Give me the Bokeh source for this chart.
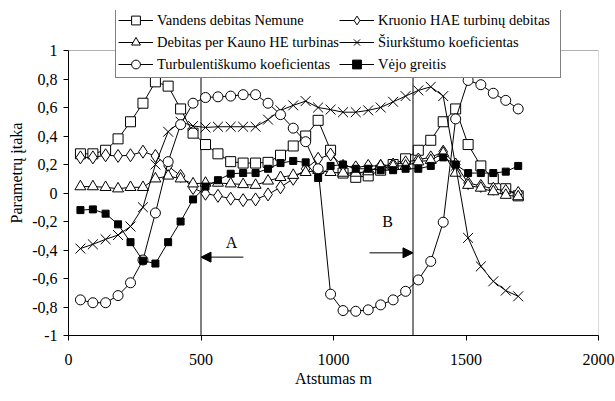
from bokeh.plotting import figure
from bokeh.models import (Range1d, FixedTicker, Legend, LegendItem, Arrow,
                          NormalHead, Label, BoxAnnotation)
from bokeh.embed import file_html
from bokeh.resources import INLINE

FONT = "Liberation Serif"

distance = [45, 92, 140, 187, 234, 281, 328, 376, 423, 470, 517, 564, 612, 659,
            706, 753, 800, 848, 895, 942, 989, 1036, 1084, 1131, 1178, 1225, 1272,
            1320, 1367, 1414, 1461, 1508, 1556, 1603, 1650, 1697]

vandens = [0.275, 0.275, 0.30, 0.38, 0.50, 0.63, 0.78, 0.75, 0.59, 0.42,
           0.34, 0.275, 0.22, 0.21, 0.21, 0.215, 0.265, 0.33, 0.40, 0.51,
           0.30, 0.14, 0.11, 0.12, 0.16, 0.20, 0.24, 0.30, 0.37, 0.50,
           0.59, 0.34, 0.19, 0.10, 0.03, -0.02]
debitas = [0.045, 0.045, 0.04, 0.03, 0.04, 0.04, 0.10, 0.12, 0.10, 0.065,
           0.07, 0.07, 0.065, 0.06, 0.055, 0.085, 0.11, 0.125, 0.145, 0.16,
           0.145, 0.14, 0.14, 0.15, 0.19, 0.19, 0.19, 0.22, 0.23, 0.28,
           0.14, 0.055, 0.035, 0.01, -0.015, -0.025]
turbulent = [-0.75, -0.77, -0.77, -0.72, -0.63, -0.47, -0.14, 0.22, 0.48, 0.63,
             0.67, 0.675, 0.68, 0.69, 0.69, 0.63, 0.55, 0.455, 0.36, 0.17,
             -0.71, -0.825, -0.83, -0.82, -0.785, -0.75, -0.69, -0.61, -0.48, -0.205,
             0.52, 0.79, 0.76, 0.70, 0.65, 0.59]
kruonio = [0.25, 0.25, 0.265, 0.26, 0.265, 0.29, 0.26, 0.19, 0.12, 0.035,
           -0.005, -0.02, -0.04, -0.05, -0.045, -0.01, 0.04, 0.10, 0.17, 0.24,
           0.27, 0.19, 0.18, 0.19, 0.19, 0.20, 0.215, 0.235, 0.25, 0.29,
           0.20, 0.07, 0.05, 0.03, 0.015, 0.0]
siurkstumo = [-0.39, -0.36, -0.325, -0.295, -0.235, -0.10, 0.20, 0.43, 0.50, 0.47,
              0.46, 0.465, 0.465, 0.465, 0.465, 0.515, 0.58, 0.615, 0.645, 0.60,
              0.585, 0.567, 0.567, 0.58, 0.60, 0.64, 0.68, 0.72, 0.745, 0.68,
              0.19, -0.315, -0.515, -0.62, -0.685, -0.725]
vejo = [-0.12, -0.115, -0.145, -0.22, -0.345, -0.475, -0.495, -0.345, -0.20, -0.045,
        0.045, 0.09, 0.135, 0.14, 0.14, 0.17, 0.21, 0.225, 0.215, 0.105,
        0.19, 0.20, 0.17, 0.17, 0.16, 0.16, 0.17, 0.17, 0.19, 0.25,
        0.20, 0.14, 0.14, 0.14, 0.15, 0.19]

labels = ["Vandens debitas Nemune", "Debitas per Kauno HE turbinas",
          "Turbulentiškumo koeficientas", "Kruonio HAE turbinų debitas",
          "Šiurkštumo koeficientas", "Vėjo greitis"]

y_ticks = [-1, -0.8, -0.6, -0.4, -0.2, 0, 0.2, 0.4, 0.6, 0.8, 1]
y_tick_labels = ["-1", "-0,8", "-0,6", "-0,4", "-0,2", "0", "0,2", "0,4", "0,6", "0,8", "1"]
x_ticks = [0, 500, 1000, 1500, 2000]

zones = [500, 1300]

# the y range is extended above 1 so the legend (which overlaps the top
# border in the reference) is not clipped; the visible box is drawn to y=1
Y_TOP = 1 + 40 / 142.5

p = figure(width=615, height=401, output_backend="svg", toolbar_location=None,
           x_range=Range1d(0, 2000), y_range=Range1d(-1, Y_TOP),
           min_border_left=68, min_border_right=17, min_border_top=10,
           min_border_bottom=66)
p.grid.visible = False
p.outline_line_color = None
p.background_fill_color = "white"
p.border_fill_color = "white"

p.add_layout(BoxAnnotation(left=0, right=2000, bottom=-1, top=1,
                           fill_alpha=0, line_color="black", line_width=1,
                           level="underlay"))

for ax in (p.xaxis[0], p.yaxis[0]):
    ax.axis_line_color = "black"
    ax.major_tick_line_color = "black"
    ax.minor_tick_line_color = None
    ax.major_tick_in = 0
    ax.major_tick_out = 5
    ax.major_label_text_font = FONT
    ax.major_label_text_font_size = "16px"
    ax.major_label_text_color = "black"
    ax.axis_label_text_font = FONT
    ax.axis_label_text_font_size = "16px"
    ax.axis_label_text_font_style = "normal"
    ax.axis_label_text_color = "black"

p.xaxis.ticker = FixedTicker(ticks=x_ticks)
p.xaxis.major_label_standoff = 13
p.xaxis.axis_label = "Atstumas m"
p.xaxis.axis_label_standoff = 2
p.yaxis.ticker = FixedTicker(ticks=y_ticks)
p.yaxis.bounds = (-1, 1)
p.yaxis.major_label_overrides = {t: s for t, s in zip(y_ticks, y_tick_labels)}
p.yaxis.major_label_standoff = 6
p.yaxis.axis_label = "Parametrų įtaka"
p.yaxis.axis_label_standoff = 4

p.segment(x0=zones, y0=[-1] * len(zones), x1=zones, y1=[1] * len(zones),
          line_color="black", line_width=1)

p.add_layout(Arrow(end=NormalHead(size=10, fill_color="black", line_color="black"),
                   x_start=660, y_start=-0.45, x_end=500, y_end=-0.45,
                   line_color="black", line_width=1))
p.add_layout(Arrow(end=NormalHead(size=10, fill_color="black", line_color="black"),
                   x_start=1136, y_start=-0.42, x_end=1300, y_end=-0.42,
                   line_color="black", line_width=1))
p.add_layout(Label(x=615, y=-0.35, text="A", text_font=FONT, text_font_size="16px",
                   text_align="center", text_baseline="middle", text_color="black"))
p.add_layout(Label(x=1204, y=-0.20, text="B", text_font=FONT, text_font_size="16px",
                   text_align="center", text_baseline="middle", text_color="black"))

series = [
    (vandens, "square", 10, "white"),
    (debitas, "triangle", 11, "white"),
    (turbulent, "circle", 10, "white"),
    (kruonio, "diamond", 13, "white"),
    (siurkstumo, "x", 14, "white"),
    (vejo, "square", 7, "black"),
]

renderers = {}
draw_order = [0, 3, 1, 4, 2, 5]
for i in draw_order:
    ys, marker, size, fill = series[i]
    lr = p.line(distance, ys, line_color="black", line_width=1)
    sr = p.scatter(distance, ys, marker=marker, size=size, fill_color=fill,
                   line_color="black", line_width=1)
    renderers[i] = [lr, sr]

items = [LegendItem(label=labels[i], renderers=renderers[i]) for i in range(6)]
legend = Legend(items=items, ncols=2, location=(47, 257),
                label_text_font=FONT, label_text_font_size="14.5px",
                label_text_color="black", glyph_width=35, glyph_height=22,
                label_height=18, label_width=180, label_standoff=4, spacing=0,
                padding=2, margin=0, border_line_color="black", border_line_width=1,
                background_fill_color="white", background_fill_alpha=1.0)
p.add_layout(legend, "center")

open("out.html", "w").write(file_html(p, INLINE))
